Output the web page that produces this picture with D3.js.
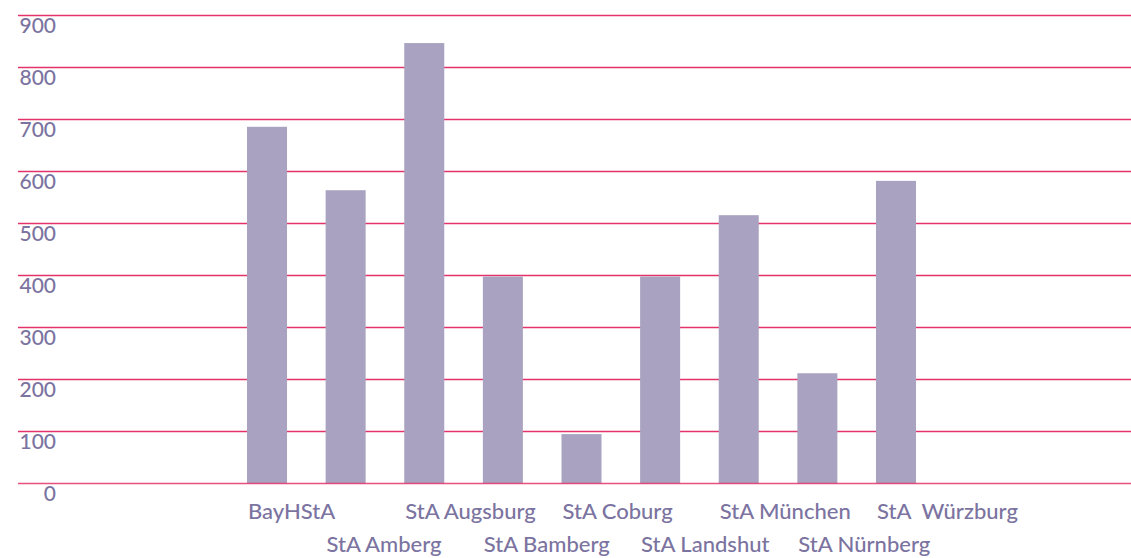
<!DOCTYPE html>
<html>
<head>
<meta charset="utf-8">
<script src="https://cdn.jsdelivr.net/npm/d3@7"></script>
<style>
    body { margin: 0; background: #fff; }
    svg { display: block; }
    .tickText { font-family: Lato, "Open Sans", sans-serif; font-size: 21px; font-weight: 500; fill: #7b73a0; }
    .catText { font-family: Lato, "Open Sans", sans-serif; font-size: 22px; font-weight: 500; fill: #7b73a0; }
</style>
</head>
<body>
<div class="article"></div>
<script>
// archive names and counts
var archives = ["BayHStA", "StA Amberg", "StA Augsburg", "StA Bamberg", "StA Coburg",
    "StA Landshut", "StA München", "StA Nürnberg", "StA  Würzburg"];
var counts = [686, 564, 847, 398, 95, 398, 516, 212, 582];
var yTicks = [0, 100, 200, 300, 400, 500, 600, 700, 800, 900];

buildBars();

function buildBars() {
    var svgWidth = 1131;
    var svgHeight = 558;

    var svg = d3.select(".article").append("svg")
        .attr("width", svgWidth)
        .attr("height", svgHeight);

    // y scale: 0 sits at the bottom gridline
    var yScale = d3.scaleLinear()
        .domain([0, 900])
        .range([483.5, 15.5]);

    // bars 40px wide, ~78.6px apart
    var xScale = d3.scaleBand()
        .domain(archives)
        .range([247, 916])
        .paddingInner(0.491)
        .paddingOuter(0);

    // gridlines (not the zero line, that goes on top)
    svg.append("g")
        .selectAll("line")
        .data(yTicks.filter(t => t > 0))
        .enter()
        .append("line")
        .attr("x1", 18)
        .attr("x2", svgWidth)
        .attr("y1", d => yScale(d))
        .attr("y2", d => yScale(d))
        .attr("stroke", "#e3336a")
        .attr("stroke-width", 1.3);

    // tick labels sit just under their line
    svg.append("g")
        .selectAll("text")
        .data(yTicks)
        .enter()
        .append("text")
        .attr("class", "tickText")
        .attr("text-anchor", "end")
        .attr("x", 56)
        .attr("y", d => yScale(d) + 17.5)
        .text(d => d);

    // bars
    svg.append("g")
        .selectAll("rect")
        .data(counts)
        .enter()
        .append("rect")
        .attr("x", (d, i) => xScale(archives[i]))
        .attr("y", d => yScale(d))
        .attr("width", xScale.bandwidth())
        .attr("height", d => yScale(0) - yScale(d))
        .attr("fill", "#a9a3c1");

    // zero line over the bars
    svg.append("line")
        .attr("x1", 18)
        .attr("x2", svgWidth)
        .attr("y1", yScale(0))
        .attr("y2", yScale(0))
        .attr("stroke", "#e3336a")
        .attr("stroke-opacity", 0.85)
        .attr("stroke-width", 1.3);

    // category labels, left aligned to the bar, alternating rows
    svg.append("g")
        .selectAll("text")
        .data(archives)
        .enter()
        .append("text")
        .attr("class", "catText")
        .attr("x", d => xScale(d) + 1)
        .attr("y", (d, i) => i % 2 == 0 ? 519 : 552)
        .style("white-space", "pre")
        .text(d => d);
}
</script>
</body>
</html>
